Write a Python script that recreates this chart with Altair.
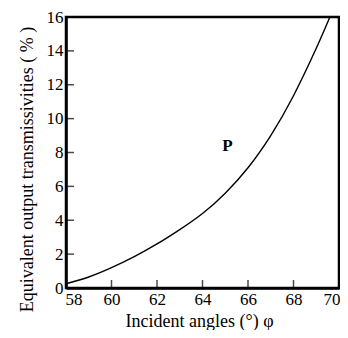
import altair as alt
import pandas as pd

angles = [58, 59, 60, 61, 62, 63, 64, 65, 66, 67, 68, 69, 69.6]
trans = [0.25, 0.65, 1.2, 1.85, 2.6, 3.45, 4.4, 5.6, 7.1, 9.0, 11.35, 14.15, 16.0]
x_ticks = [60, 62, 64, 66, 68]
y_ticks = [2, 4, 6, 8, 10, 12, 14]
x_labels = [58, 60, 62, 64, 66, 68, 70]
y_labels = [0, 2, 4, 6, 8, 10, 12, 14, 16]
label_text = ["P"]
label_x = [65.1]
label_y = [8.4]

df = pd.DataFrame({"angle": angles, "t": trans})
FONT = "Liberation Serif"

xs = alt.Scale(domain=[58, 70], nice=False)
ys = alt.Scale(domain=[0, 16], nice=False)

x_axis = alt.Axis(title="Incident angles  (°)  φ", values=x_labels,
                  ticks=False, labelFontSize=17, titleFontSize=18, labelPadding=3,
                  titleX=133, titleY=38, titleBaseline="alphabetic", titleAlign="center",
                  labelFont=FONT, titleFont=FONT, titleFontWeight="normal",
                  labelColor="black", titleColor="black", domainColor="black",
                  labelOverlap=False, labelFlush=True, labelFlushOffset=1,
                  domainWidth=2.5, grid=False)
y_axis = alt.Axis(title="Equivalent output transmissivities ( % )", values=y_labels,
                  ticks=False, labelFontSize=17, titleFontSize=18, labelPadding=3,
                  titleX=-34, titleY=152, titleBaseline="alphabetic", titleAlign="center",
                  titleAngle=270,
                  labelFont=FONT, titleFont=FONT, titleFontWeight="normal",
                  labelColor="black", titleColor="black", domainColor="black",
                  labelOverlap=False, labelFlush=False,
                  domainWidth=2.5, grid=False)

line = alt.Chart(df).mark_line(color="black", strokeWidth=1.4, interpolate="natural").encode(
    x=alt.X("angle:Q", scale=xs, axis=x_axis),
    y=alt.Y("t:Q", scale=ys, axis=y_axis),
)

xt = alt.Chart(pd.DataFrame({"v": x_ticks, "z": [0] * len(x_ticks)})).mark_tick(
    color="black", orient="vertical", size=8, thickness=1.5, yOffset=-4
).encode(x=alt.X("v:Q", scale=xs, axis=x_axis), y=alt.Y("z:Q", scale=ys, axis=y_axis))

yt = alt.Chart(pd.DataFrame({"v": y_ticks, "z": [58] * len(y_ticks)})).mark_tick(
    color="black", orient="horizontal", size=8, thickness=1.5, xOffset=4
).encode(y=alt.Y("v:Q", scale=ys, axis=y_axis), x=alt.X("z:Q", scale=xs, axis=x_axis))

txt = alt.Chart(pd.DataFrame({"x": label_x, "y": label_y, "s": label_text})).mark_text(
    font=FONT, fontSize=17, fontWeight="bold", color="black"
).encode(x=alt.X("x:Q", scale=xs, axis=x_axis), y=alt.Y("y:Q", scale=ys, axis=y_axis), text="s:N")

chart = (line + xt + yt + txt).properties(
    width=273, height=271,
    background="white",
    autosize=alt.AutoSizeParams(type="none"),
    padding={"left": 58, "top": 9, "right": 1, "bottom": 42},
).configure_view(stroke="black", strokeWidth=2.5)

chart.save("out.html", embed_options={"renderer": "svg", "actions": False})
